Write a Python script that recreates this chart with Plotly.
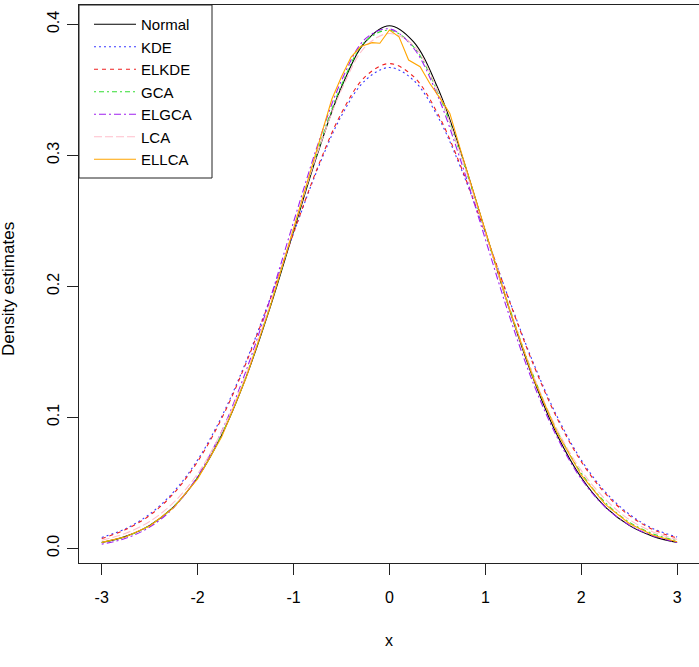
import plotly.graph_objects as go

# ---------------- data ----------------
x_grid = [-3, -2.75, -2.5, -2.25, -2, -1.75, -1.5, -1.25, -1, -0.75, -0.5, -0.25,
          0, 0.25, 0.5, 0.75, 1, 1.25, 1.5, 1.75, 2, 2.25, 2.5, 2.75, 3]

normal = [0.0044, 0.0091, 0.0175, 0.0317, 0.0540, 0.0863, 0.1295, 0.1826, 0.2420,
          0.3011, 0.3521, 0.3867, 0.3989, 0.3867, 0.3521, 0.3011, 0.2420, 0.1826,
          0.1295, 0.0863, 0.0540, 0.0317, 0.0175, 0.0091, 0.0044]

kde = [0.0083, 0.0150, 0.0261, 0.0431, 0.0675, 0.1004, 0.1417, 0.1895, 0.2404,
       0.2893, 0.3302, 0.3574, 0.3670, 0.3574, 0.3302, 0.2893, 0.2404, 0.1895,
       0.1417, 0.1004, 0.0675, 0.0431, 0.0261, 0.0150, 0.0086]

elkde = [0.0075, 0.0143, 0.0251, 0.0419, 0.0662, 0.0990, 0.1405, 0.1889, 0.2406,
         0.2905, 0.3323, 0.3602, 0.3700, 0.3602, 0.3323, 0.2905, 0.2406, 0.1889,
         0.1405, 0.0990, 0.0662, 0.0419, 0.0251, 0.0143, 0.0078]

gca = [0.0045, 0.0090, 0.0175, 0.0318, 0.0542, 0.0868, 0.1305, 0.1840, 0.2435,
       0.3030, 0.3535, 0.3870, 0.3955, 0.3830, 0.3490, 0.2990, 0.2415, 0.1840,
       0.1320, 0.0895, 0.0575, 0.0350, 0.0200, 0.0110, 0.0058]

elgca = [0.0032, 0.0076, 0.0162, 0.0310, 0.0550, 0.0892, 0.1345, 0.1890, 0.2490,
         0.3075, 0.3570, 0.3890, 0.3965, 0.3820, 0.3460, 0.2945, 0.2360, 0.1775,
         0.1260, 0.0845, 0.0530, 0.0315, 0.0178, 0.0095, 0.0045]

lca = [0.0062, 0.0115, 0.0205, 0.0350, 0.0570, 0.0890, 0.1320, 0.1850, 0.2440,
       0.3020, 0.3500, 0.3830, 0.3930, 0.3840, 0.3500, 0.2990, 0.2410, 0.1830,
       0.1320, 0.0905, 0.0595, 0.0375, 0.0220, 0.0125, 0.0068]

ellca_x = [-3, -2.75, -2.5, -2.25, -2, -1.75, -1.5, -1.25, -1, -0.75, -0.6, -0.5,
           -0.4, -0.3, -0.18, -0.1, 0.0, 0.1, 0.2, 0.32, 0.42, 0.56, 0.63, 0.75,
           1, 1.25, 1.5, 1.75, 2, 2.25, 2.5, 2.75, 3]
ellca = [0.0045, 0.0088, 0.0170, 0.0310, 0.0530, 0.0850, 0.1290, 0.1830, 0.2440,
         0.3060, 0.3430, 0.3600, 0.3750, 0.3830, 0.3860, 0.3855, 0.3957, 0.3905,
         0.3727, 0.3676, 0.3550, 0.3400, 0.3320, 0.3020, 0.2420, 0.1830, 0.1300,
         0.0880, 0.0560, 0.0335, 0.0190, 0.0100, 0.0050]

series_names = ["Normal", "KDE", "ELKDE", "GCA", "ELGCA", "LCA", "ELLCA"]
x_tick_vals = [-3, -2, -1, 0, 1, 2, 3]
x_tick_text = ["-3", "-2", "-1", "0", "1", "2", "3"]
y_tick_vals = [0.0, 0.1, 0.2, 0.3, 0.4]
y_tick_text = ["0.0", "0.1", "0.2", "0.3", "0.4"]

# ---------------- styles ----------------
styles = {
    "Normal": dict(color="#000000", dash="solid", shape="spline"),
    "KDE": dict(color="#3A3AFF", dash="2px,3px", shape="spline"),
    "ELKDE": dict(color="#F02020", dash="4px,4px", shape="spline"),
    "GCA": dict(color="#33DD33", dash="2px,3px,5px,3px", shape="spline"),
    "ELGCA": dict(color="#A020F0", dash="2px,3px,7px,3px", shape="spline"),
    "LCA": dict(color="#FFBFCB", dash="8px,3px", shape="spline"),
    "ELLCA": dict(color="#FFA500", dash="solid", shape="linear"),
}
data = {
    "Normal": (x_grid, normal),
    "KDE": (x_grid, kde),
    "ELKDE": (x_grid, elkde),
    "GCA": (x_grid, gca),
    "ELGCA": (x_grid, elgca),
    "LCA": (x_grid, lca),
    "ELLCA": (ellca_x, ellca),
}

fig = go.Figure()
for name in series_names:
    xs, ys = data[name]
    st = styles[name]
    fig.add_trace(go.Scatter(
        x=xs, y=ys, mode="lines", name=name,
        line=dict(color=st["color"], width=1.1, dash=st["dash"], shape=st["shape"]),
    ))

W, H = 699, 667
ML, MR, MT, MB = 79, 0, 5, 104
pw = W - ML - MR
ph = H - MT - MB

axis_col = "#222222"
fig.update_layout(
    width=W, height=H,
    margin=dict(l=ML, r=MR, t=MT, b=MB, pad=0, autoexpand=False),
    plot_bgcolor="white", paper_bgcolor="white",
    font=dict(family="Liberation Sans, Arial, Helvetica, sans-serif", size=16, color="black"),
    showlegend=True,
    xaxis=dict(
        range=[-3.237, 3.228], tickmode="array", tickvals=x_tick_vals, ticktext=x_tick_text,
        ticks="outside", ticklen=11, tickwidth=1, tickcolor=axis_col,
        showline=True, linecolor=axis_col, linewidth=1, mirror=True,
        showgrid=False, zeroline=False, tickfont=dict(size=16), ticklabelstandoff=9,
    ),
    yaxis=dict(
        range=[-0.01122, 0.41473], tickmode="array", tickvals=y_tick_vals, ticktext=y_tick_text,
        tickangle=-90, ticks="outside", ticklen=11, tickwidth=1, tickcolor=axis_col,
        showline=True, linecolor=axis_col, linewidth=1, mirror=False,
        showgrid=False, zeroline=False, tickfont=dict(size=16), ticklabelstandoff=2,
    ),
    legend=dict(
        x=(89 - ML) / pw, y=(H - MB - 8) / ph, xanchor="left", yanchor="top",
        bgcolor="rgba(255,255,255,0)", borderwidth=0, font=dict(size=15),
        itemwidth=42, tracegroupgap=0,
    ),
    shapes=[dict(
        type="rect", xref="paper", yref="paper",
        x0=0, x1=(212 - ML) / pw, y0=(H - MB - 178) / ph, y1=1,
        line=dict(color=axis_col, width=1), fillcolor="rgba(0,0,0,0)", layer="above",
    )],
    annotations=[
        dict(text="x", xref="x", x=0, yref="paper", y=(H - MB - 640) / ph,
             showarrow=False, xanchor="center", yanchor="middle", font=dict(size=16)),
        dict(text="Density estimates", xref="paper", x=(9 - ML) / pw,
             yref="paper", y=(H - MB - 289) / ph,
             textangle=-90, showarrow=False, xanchor="center", yanchor="middle",
             font=dict(size=17)),
    ],
)

fig.write_html("out.html")
